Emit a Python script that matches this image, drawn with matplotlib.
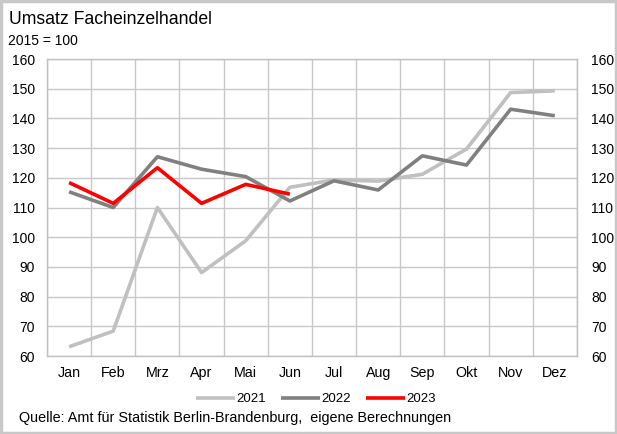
import matplotlib.pyplot as plt
import matplotlib.patches as mpatches

plt.rcParams['font.family'] = ['Liberation Sans', 'DejaVu Sans']

months = ["Jan", "Feb", "Mrz", "Apr", "Mai", "Jun", "Jul", "Aug", "Sep", "Okt", "Nov", "Dez"]
v2021 = [63.1, 68.4, 110.0, 88.1, 98.8, 116.8, 119.3, 118.9, 121.2, 129.7, 148.7, 149.3]
v2022 = [115.3, 110.0, 127.1, 122.9, 120.4, 112.2, 119.0, 115.9, 127.4, 124.3, 143.1, 140.9]
v2023 = [118.4, 111.4, 123.4, 111.4, 117.8, 114.5]
yticks = list(range(60, 161, 10))

fig = plt.figure(figsize=(6.17, 4.34), dpi=100)
ax = fig.add_axes([0.0762, 0.1797, 0.8588, 0.6843])

x = list(range(len(months)))
ax.plot(x, v2021, color="#c0c0c0", lw=2.6, label="2021", solid_capstyle="butt")
ax.plot(x, v2022, color="#808080", lw=2.6, label="2022", solid_capstyle="butt")
ax.plot(x[:len(v2023)], v2023, color="#ff0000", lw=2.6, label="2023", solid_capstyle="butt")

ax.set_xlim(-0.5, 11.5)
ax.set_ylim(60, 160)
ax.set_yticks(yticks)
# gridlines between months, labels at month centres
ax.set_xticks([i - 0.5 for i in range(13)])
ax.set_xticklabels([])
ax.set_xticks(x, minor=True)
ax.set_xticklabels(months, minor=True, fontsize=10.3)
ax.tick_params(axis="both", which="both", length=0)
ax.tick_params(axis="x", which="minor", pad=7)
ax.tick_params(axis="y", labelsize=10, pad=8.5)
ax.grid(True, which="major", color="#c8c8c8", lw=1)
for s in ax.spines.values():
    s.set_color("#c0c0c0")
    s.set_linewidth(1)
ax.set_axisbelow(True)

ax2 = ax.twinx()
ax2.set_ylim(60, 160)
ax2.set_yticks(yticks)
ax2.tick_params(axis="y", length=0, labelsize=10, pad=10.5)
for s in ax2.spines.values():
    s.set_visible(False)

fig.legend(*ax.get_legend_handles_labels(), loc="center", bbox_to_anchor=(0.512, 0.08),
           ncol=3, frameon=False, fontsize=9.5, handlelength=3.0, handletextpad=0.1,
           columnspacing=1.1)

fig.text(0.0146, 0.975, "Umsatz Facheinzelhandel", fontsize=12.7, va="top", ha="left")
fig.text(0.013, 0.922, "2015 = 100", fontsize=10, va="top", ha="left")
fig.text(0.03, 0.036, "Quelle: Amt für Statistik Berlin-Brandenburg,  eigene Berechnungen",
         fontsize=10.4, va="center", ha="left")

fig.patches.append(mpatches.Rectangle((0.002, 0.003), 0.996, 0.994, transform=fig.transFigure,
                                      fill=False, edgecolor="#c8c8c8", lw=2.5))

fig.savefig("out.png", dpi=100)
